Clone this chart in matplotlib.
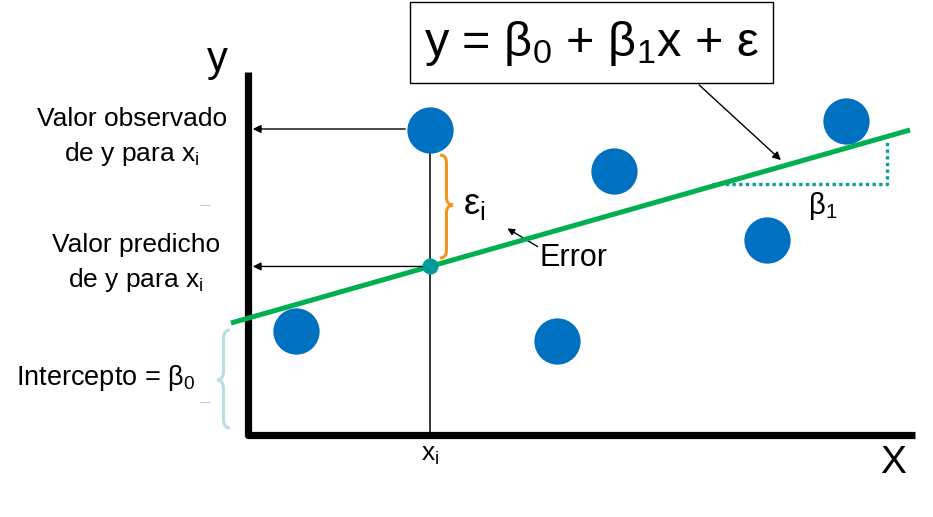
import matplotlib
matplotlib.use("Agg")
import matplotlib.pyplot as plt
from matplotlib.path import Path
from matplotlib.patches import PathPatch, Rectangle

plt.rcParams['font.family'] = ['Liberation Sans', 'DejaVu Sans']
plt.rcParams['mathtext.fontset'] = 'custom'
plt.rcParams['mathtext.rm'] = 'Liberation Sans'
plt.rcParams['mathtext.it'] = 'Liberation Sans'

# ---- data (diagram units, origin at the axes corner) ----
obs_x = [182, 366, 598, 519, 48, 309]
obs_y = [305, 264, 314, 195, 104, 94]
beta0 = 116.8
beta1 = 0.2843
line_x = [-17, 662]
xi = 182

fig = plt.figure(figsize=(9.33, 5.17), dpi=100)
ax = fig.add_axes([0, 0, 1, 1])
ax.set_xlim(-248, 685)
ax.set_ylim(-82, 435)
ax.axis('off')

# main axes
ax.plot([0, 0, 667], [363, 0, 0], color='black', lw=5.2, solid_joinstyle='round',
        solid_capstyle='butt', zorder=3)

# regression line
ly = [beta0 + beta1 * x for x in line_x]
ax.plot(line_x, ly, color='#00B050', lw=3.6, zorder=4, solid_capstyle='butt')

# vertical line at x_i
yhat = beta0 + beta1 * xi
ax.plot([xi, xi], [0, obs_y[0]], color='black', lw=1.1, zorder=2)

# points
ax.scatter(obs_x, obs_y, s=1110, color='#0070C0', zorder=5, linewidths=0)
ax.scatter([xi], [yhat], s=135, color='#009A9A', zorder=6, linewidths=0)

# arrows to y axis
arrow_kw = dict(arrowstyle='-|>', color='black', lw=1.0, mutation_scale=12)
ax.annotate('', xy=(2, 306), xytext=(160, 306), arrowprops=arrow_kw, zorder=4)
ax.annotate('', xy=(2, yhat), xytext=(xi, yhat), arrowprops=arrow_kw, zorder=4)


def brace(xb, xt, y0, y1, ym, r):
    xm = (xb + xt) / 2
    verts = [(xb, y1), (xm, y1), (xm, y1 - r), (xm, ym + r), (xm, ym), (xt, ym),
             (xm, ym), (xm, ym - r), (xm, y0 + r), (xm, y0), (xb, y0)]
    codes = [Path.MOVETO, Path.CURVE3, Path.CURVE3, Path.LINETO, Path.CURVE3, Path.CURVE3,
             Path.CURVE3, Path.CURVE3, Path.LINETO, Path.CURVE3, Path.CURVE3]
    return Path(verts, codes)


# error brace (orange)
ax.add_patch(PathPatch(brace(192, 205, 177, 280, 230, 8), facecolor='none',
                       edgecolor='#F7941D', lw=2.2, zorder=4))
ax.text(215, 230, r'ε$_\mathregular{i}$', fontsize=26, va='center', ha='left')

# Error label
ax.annotate('', xy=(257, 208), xytext=(292, 187),
            arrowprops=dict(arrowstyle='-|>', color='black', lw=1.0, mutation_scale=10))
ax.text(292, 177, 'Error', fontsize=22, va='center', ha='left')

# slope indicator
ax.plot([464, 639, 639], [251, 251, 295], color='#0E9E9A', lw=2.4,
        linestyle=(0, (1, 1)), zorder=3)
ax.text(575, 229, r'β$_\mathregular{1}$', fontsize=21, va='center', ha='center')

# intercept brace (light blue)
ax.add_patch(PathPatch(brace(-18, -31, 7, 105, 55, 9), facecolor='none',
                       edgecolor='#B9DDE3', lw=2.2, zorder=3))
ax.text(-53, 57, r'Intercepto = β$_\mathregular{0}$', fontsize=19.5, va='center', ha='right')

# small grey ticks
ax.plot([-48, -39], [230, 230], color='#C8C8C8', lw=0.8)
ax.plot([-48, -39], [33, 33], color='#C8C8C8', lw=0.8)

# left labels
ax.text(-116, 316, 'Valor observado', fontsize=19, va='center', ha='center')
ax.text(-116, 281, r'de y para x$_\mathregular{i}$', fontsize=19, va='center', ha='center')
ax.text(-112, 190, 'Valor predicho', fontsize=19, va='center', ha='center')
ax.text(-112, 155, r'de y para x$_\mathregular{i}$', fontsize=19, va='center', ha='center')

# axis labels
ax.text(-31, 375, 'y', fontsize=30, va='center', ha='center')
ax.text(645, -28, 'X', fontsize=28, va='center', ha='center')
ax.text(xi, -20, r'x$_\mathregular{i}$', fontsize=19, va='center', ha='center')

# equation box
ax.add_patch(Rectangle((162, 352), 363, 81, facecolor='white', edgecolor='black', lw=1.0, zorder=6))
ax.text(343, 392, r'y = β$_\mathregular{0}$ + β$_\mathregular{1}$x + ε', fontsize=35,
        va='center', ha='center', zorder=7)
ax.annotate('', xy=(535, 273), xytext=(449, 352),
            arrowprops=dict(arrowstyle='-|>', color='black', lw=1.0, mutation_scale=12))

fig.savefig('out.png', dpi=100)
